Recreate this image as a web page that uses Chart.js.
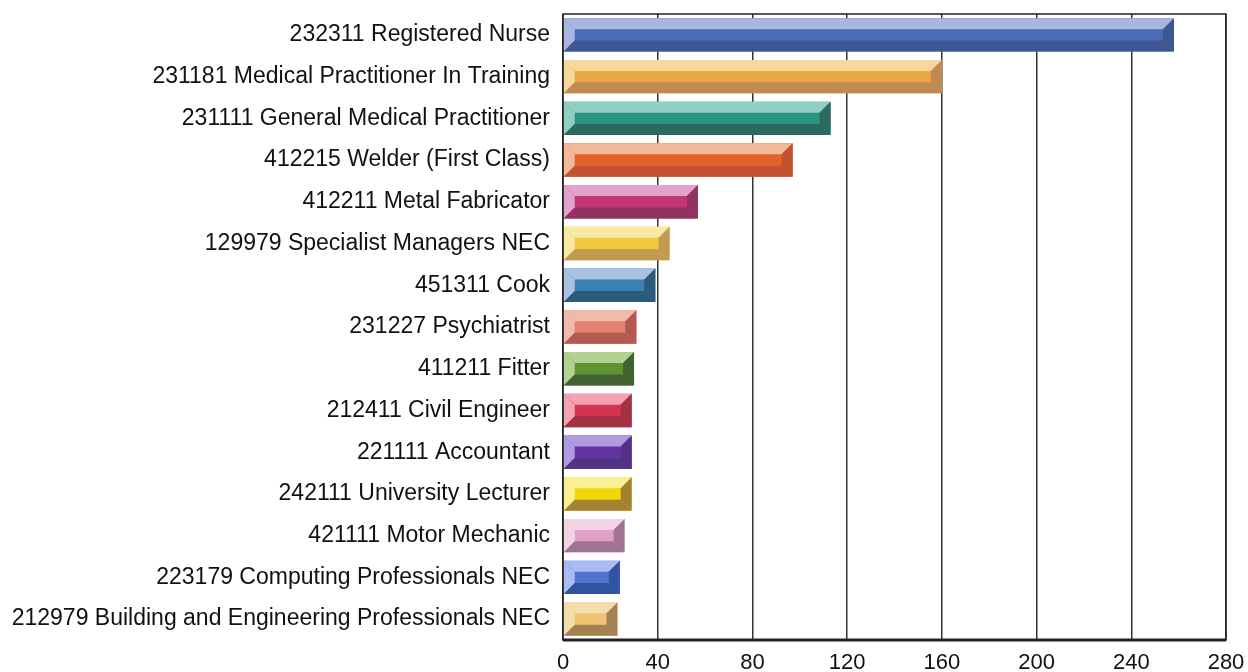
<!DOCTYPE html>
<html lang="en">
<head>
    <meta charset="UTF-8">
    <title>Occupations</title>
    <script src="https://cdn.jsdelivr.net/npm/chart.js"></script>
    <style>
        body {
            margin: 0;
            background-color: #ffffff;
        }
        #wrap {
            width: 1248px;
            height: 672px;
        }
    </style>
</head>
<body>
    <div id="wrap"><canvas id="barChart" width="1248" height="672"></canvas></div>

    <script>
        // Occupations (top to bottom)
        const occupations = [
            '232311 Registered Nurse',
            '231181 Medical Practitioner In Training',
            '231111 General Medical Practitioner',
            '412215 Welder (First Class)',
            '412211 Metal Fabricator',
            '129979 Specialist Managers NEC',
            '451311 Cook',
            '231227 Psychiatrist',
            '411211 Fitter',
            '212411 Civil Engineer',
            '221111 Accountant',
            '242111 University Lecturer',
            '421111 Motor Mechanic',
            '223179 Computing Professionals NEC',
            '212979 Building and Engineering Professionals NEC'
        ];

        // Values
        const counts = [258, 160, 113, 97, 57, 45, 39, 31, 30, 29, 29, 29, 26, 24, 23];

        // X axis ticks
        const xTicks = [0, 40, 80, 120, 160, 200, 240, 280];

        // Bar colours: face, light bevel (top/left), dark bevel (bottom/right)
        const faceColors = ['#4b6cb4', '#eaa640', '#2a9482', '#e2622a', '#c23672', '#f2c83e', '#3a80b2', '#e08272', '#5f9232', '#d23452', '#6234a2', '#f0d808', '#e0a2c4', '#5272d2', '#f0c274'];
        const lightColors = ['#aab6e2', '#f6d89c', '#90d0c2', '#f2ba9a', '#e2a2ca', '#f8eaa2', '#aac2e2', '#f2baaa', '#b2d292', '#f2a2b2', '#b29ae2', '#f8f092', '#f2d4e4', '#aabaf2', '#f2deaa'];
        const darkColors = ['#3e5692', '#c28a52', '#2c6a60', '#c25232', '#923262', '#c29a52', '#2c5a7a', '#b25a52', '#426232', '#a23242', '#523282', '#a28232', '#a27292', '#3252a2', '#a28252'];

        // Bevelled bar look, drawn on top of each bar element
        const bevelPlugin = {
            id: 'bevel',
            afterDatasetsDraw(chart) {
                const ctx = chart.ctx;
                const meta = chart.getDatasetMeta(0);
                meta.data.forEach((bar, i) => {
                    const p = bar.getProps(['x', 'y', 'base', 'height'], true);
                    const l = Math.min(p.base, p.x);
                    const r = Math.max(p.base, p.x);
                    const t = p.y - p.height / 2;
                    const b = p.y + p.height / 2;
                    const d = Math.min(11, (r - l) / 2, p.height / 3);

                    function poly(pts, color) {
                        ctx.beginPath();
                        ctx.moveTo(pts[0][0], pts[0][1]);
                        for (let k = 1; k < pts.length; k++) ctx.lineTo(pts[k][0], pts[k][1]);
                        ctx.closePath();
                        ctx.fillStyle = color;
                        ctx.fill();
                    }
                    ctx.save();
                    poly([[l, t], [r, t], [r - d, t + d], [l + d, t + d]], lightColors[i]);
                    poly([[l, t], [l + d, t + d], [l + d, b - d], [l, b]], lightColors[i]);
                    poly([[l, b], [l + d, b - d], [r - d, b - d], [r, b]], darkColors[i]);
                    poly([[r, t], [r, b], [r - d, b - d], [r - d, t + d]], darkColors[i]);
                    ctx.restore();
                });
            },
            afterDraw(chart) {
                const a = chart.chartArea;
                const ctx = chart.ctx;
                ctx.save();
                ctx.strokeStyle = '#222';
                ctx.lineWidth = 1.5;
                ctx.strokeRect(a.left, a.top, a.right - a.left, a.bottom - a.top);
                ctx.lineWidth = 3;
                ctx.beginPath();
                ctx.moveTo(a.left, a.bottom);
                ctx.lineTo(a.right, a.bottom);
                ctx.stroke();
                ctx.restore();
            }
        };

        const ctxBar = document.getElementById('barChart').getContext('2d');
        new Chart(ctxBar, {
            type: 'bar',
            data: {
                labels: occupations,
                datasets: [{
                    data: counts,
                    backgroundColor: faceColors,
                    borderWidth: 0,
                    categoryPercentage: 1.0,
                    barPercentage: 0.8
                }]
            },
            options: {
                indexAxis: 'y',
                responsive: false,
                animation: false,
                layout: {
                    padding: 0
                },
                plugins: {
                    legend: { display: false },
                    tooltip: { enabled: false }
                },
                scales: {
                    x: {
                        min: xTicks[0],
                        max: xTicks[xTicks.length - 1],
                        afterBuildTicks(axis) {
                            axis.ticks = xTicks.map(v => ({ value: v }));
                        },
                        afterFit(axis) {
                            axis.height = 32;
                            axis.paddingRight = 22;
                        },
                        grid: {
                            color: '#333',
                            lineWidth: 1.5,
                            drawTicks: false
                        },
                        border: { display: false },
                        ticks: {
                            color: '#111',
                            padding: 10,
                            font: { family: 'Liberation Sans', size: 22 }
                        }
                    },
                    y: {
                        afterFit(axis) {
                            axis.width = 563;
                            axis.paddingTop = 14;
                            axis.paddingBottom = 0;
                        },
                        grid: {
                            display: false
                        },
                        border: { display: false },
                        ticks: {
                            color: '#111',
                            padding: 5,
                            font: { family: 'Liberation Sans', size: 23, lineHeight: 1.0 }
                        }
                    }
                }
            },
            plugins: [bevelPlugin]
        });
    </script>
</body>
</html>
